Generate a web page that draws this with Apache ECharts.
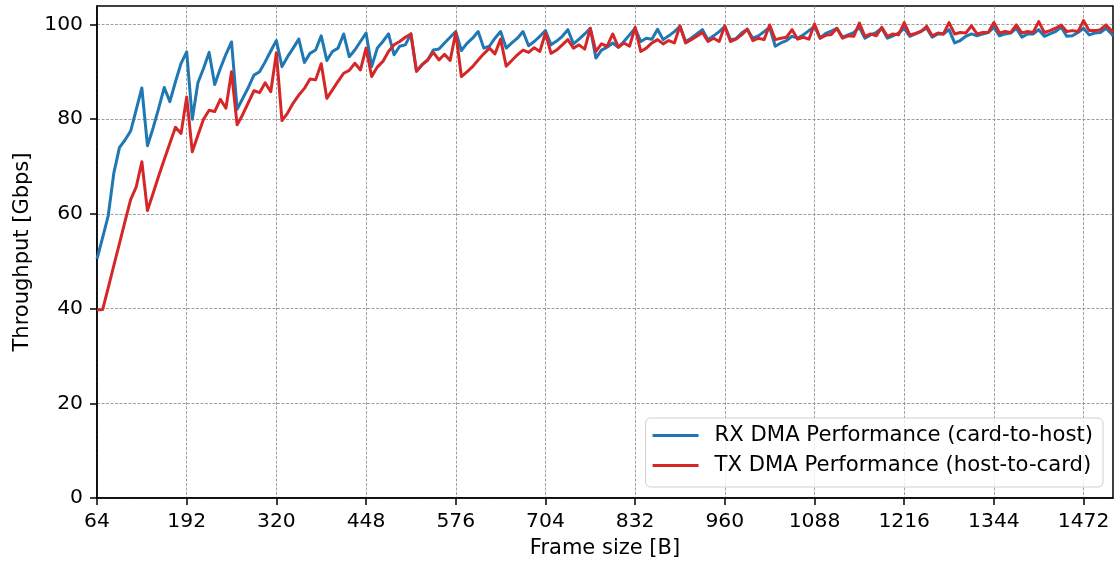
<!DOCTYPE html>
<html>
<head>
<meta charset="utf-8">
<script src="https://cdn.jsdelivr.net/npm/echarts@6/dist/echarts.min.js"></script>
<style>
html,body{margin:0;padding:0;background:#fff;}
#c{width:1118px;height:567px;}
</style>
</head>
<body>
<div id="c"></div>
<script>
const frameSizes = [
64,72,80,88,96,104,112,120,
128,136,144,152,160,168,176,184,
192,200,208,216,224,232,240,248,
256,264,272,280,288,296,304,312,
320,328,336,344,352,360,368,376,
384,392,400,408,416,424,432,440,
448,456,464,472,480,488,496,504,
512,520,528,536,544,552,560,568,
576,584,592,600,608,616,624,632,
640,648,656,664,672,680,688,696,
704,712,720,728,736,744,752,760,
768,776,784,792,800,808,816,824,
832,840,848,856,864,872,880,888,
896,904,912,920,928,936,944,952,
960,968,976,984,992,1000,1008,1016,
1024,1032,1040,1048,1056,1064,1072,1080,
1088,1096,1104,1112,1120,1128,1136,1144,
1152,1160,1168,1176,1184,1192,1200,1208,
1216,1224,1232,1240,1248,1256,1264,1272,
1280,1288,1296,1304,1312,1320,1328,1336,
1344,1352,1360,1368,1376,1384,1392,1400,
1408,1416,1424,1432,1440,1448,1456,1464,
1472,1480,1488,1496,1504,1512,
1514
];
const rxThroughput = [
50.5,55.0,59.6,68.6,74.0,75.6,77.5,82.0,
86.6,74.4,78.1,82.3,86.7,83.7,87.9,91.8,
94.2,80.0,87.7,90.7,94.1,87.3,90.7,93.7,
96.3,82.1,84.4,86.7,89.3,90.0,92.1,94.4,
96.6,91.1,93.2,95.0,96.9,92.0,93.9,94.6,
97.6,92.4,94.3,95.0,98.0,93.2,94.6,96.4,
98.2,91.1,95.0,96.4,98.0,93.6,95.4,95.7,
98.0,90.1,91.5,92.5,94.6,94.8,96.1,97.3,
98.5,94.5,96.0,97.1,98.5,95.0,95.4,97.1,
98.5,95.0,96.1,97.1,98.5,95.5,96.4,97.5,
98.7,95.7,96.5,97.5,98.9,95.9,96.9,98.0,
99.2,92.9,94.6,95.2,96.1,95.2,96.4,97.8,
99.2,96.4,97.1,96.9,99.0,96.8,97.6,98.5,
99.6,96.4,97.1,98.0,98.9,96.8,97.6,98.5,
99.6,96.8,97.0,98.2,99.0,97.1,97.6,98.5,
99.4,95.4,96.1,96.6,97.5,97.1,97.8,98.7,
99.6,97.1,98.1,98.6,99.2,97.3,97.8,98.3,
99.4,97.1,97.8,98.3,99.2,97.1,97.6,98.2,
99.2,97.5,98.0,98.6,99.2,97.3,98.0,98.0,
98.9,96.1,96.6,97.5,98.0,97.6,98.0,98.3,
99.4,97.6,98.0,98.2,99.2,97.3,98.0,98.0,
98.9,97.5,98.0,98.5,99.4,97.5,97.6,98.3,
99.2,97.8,98.2,98.3,99.2,98.0,
97.6
];
const txThroughput = [
39.7,39.8,44.4,49.1,53.7,58.4,63.0,65.7,
71.0,60.7,64.3,68.0,71.5,74.9,78.3,77.0,
84.7,73.1,76.6,80.0,81.9,81.6,84.2,82.3,
90.0,78.8,81.0,83.5,86.0,85.6,87.7,85.8,
94.0,79.7,81.3,83.4,85.1,86.5,88.5,88.3,
91.7,84.4,86.2,88.0,89.7,90.3,91.8,90.4,
95.0,89.0,91.0,92.2,94.3,95.7,96.4,97.3,
98.0,90.1,91.5,92.5,94.1,92.5,93.7,92.4,
98.3,89.0,90.0,91.1,92.5,93.8,95.0,93.8,
96.9,91.2,92.4,93.6,94.6,94.1,95.1,94.3,
98.2,93.9,94.6,95.7,96.8,95.0,95.7,94.8,
99.2,94.3,95.9,95.4,98.0,95.2,96.1,95.4,
99.4,94.3,95.0,96.1,96.8,95.9,96.6,96.1,
99.7,96.1,96.8,97.5,98.3,96.4,97.1,96.4,
99.7,96.4,96.9,97.8,99.0,96.6,97.1,96.8,
99.9,96.8,97.1,97.3,98.9,96.9,97.3,96.9,
100.1,97.1,97.7,97.9,99.2,97.1,97.6,97.5,
100.3,97.5,98.0,97.6,99.4,97.5,98.0,97.8,
100.4,97.8,98.1,98.5,99.6,97.6,98.2,98.0,
100.4,98.0,98.3,98.2,99.7,98.0,98.3,98.3,
100.4,98.2,98.5,98.3,99.9,98.2,98.5,98.3,
100.6,98.3,98.7,99.2,99.9,98.5,98.7,98.5,
100.8,98.7,98.7,98.9,99.9,98.7,
98.3
];
const xTicks = [64,192,320,448,576,704,832,960,1088,1216,1344,1472];
const yTicks = [0,20,40,60,80,100];
const seriesNames = ['RX DMA Performance (card-to-host)','TX DMA Performance (host-to-card)'];
const seriesColors = ['#1f77b4','#d62728'];

const FONT = 'DejaVu Sans';
const rxData = frameSizes.map((x,i)=>[x, rxThroughput[i]]);
const txData = frameSizes.map((x,i)=>[x, txThroughput[i]]);
const plain = v => String(v);

const chart = echarts.init(document.getElementById('c'), null, {renderer:'canvas'});
chart.setOption({
  animation:false,
  backgroundColor:'#fff',
  grid:{left:97,right:5,top:6,bottom:69,show:true,borderColor:'#000',borderWidth:1.5,backgroundColor:'transparent'},
  xAxis:{
    type:'value',min:64,max:1514,interval:128,
    name:'Frame size [B]',nameLocation:'middle',nameGap:40,
    nameTextStyle:{fontFamily:FONT,fontSize:21,color:'#000'},
    axisLine:{show:true,onZero:false,lineStyle:{color:'#000',width:1.5}},
    axisTick:{show:true,length:7,lineStyle:{color:'#000',width:1.5},customValues:xTicks},
    axisLabel:{fontFamily:FONT,fontSize:20.3,color:'#000',margin:14,customValues:xTicks,formatter:plain},
    splitLine:{show:true,lineStyle:{color:'#888',width:0.8,type:[3,1.5]}}
  },
  yAxis:{
    type:'value',min:0,max:103.9,interval:20,
    name:'Throughput [Gbps]',nameLocation:'middle',nameGap:64,
    nameTextStyle:{fontFamily:FONT,fontSize:21,color:'#000'},
    axisLine:{show:true,lineStyle:{color:'#000',width:1.5}},
    axisTick:{show:true,length:7,lineStyle:{color:'#000',width:1.5},customValues:yTicks},
    axisLabel:{fontFamily:FONT,fontSize:20.3,color:'#000',margin:14,customValues:yTicks,formatter:plain},
    splitLine:{show:true,lineStyle:{color:'#888',width:0.8,type:[3,1.5]}}
  },
  legend:{
    orient:'vertical',top:418,right:15,align:'left',
    padding:[7,10,11,7],itemGap:9,itemWidth:46,itemHeight:3,
    icon:'rect',
    backgroundColor:'rgba(255,255,255,0.8)',borderColor:'#d0d0d0',borderWidth:1,borderRadius:5,
    textStyle:{fontFamily:FONT,fontSize:21.2,color:'#000',lineHeight:21,padding:[0,0,0,11]},
    data:seriesNames
  },
  series:[
    {name:seriesNames[0],type:'line',data:rxData,showSymbol:false,symbol:'none',
     lineStyle:{color:seriesColors[0],width:3,join:'round'},itemStyle:{color:seriesColors[0]}},
    {name:seriesNames[1],type:'line',data:txData,showSymbol:false,symbol:'none',
     lineStyle:{color:seriesColors[1],width:3,join:'round'},itemStyle:{color:seriesColors[1]}}
  ]
});
</script>
</body>
</html>
